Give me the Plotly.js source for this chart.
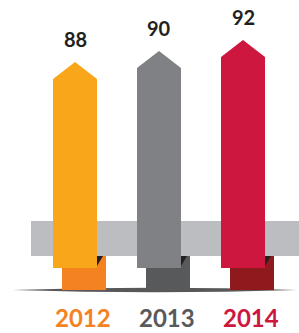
<!DOCTYPE html>
<html>
<head>
<meta charset="utf-8">
<script src="https://cdn.plot.ly/plotly-3.0.1.min.js"></script>
<style>
html,body{margin:0;padding:0;background:#fff;}
#chart{width:299px;height:333px;}
</style>
</head>
<body>
<div id="chart"></div>
<script>
// ---- data ----
const years = ['2012', '2013', '2014'];
const values = [88, 90, 92];
const frontColors = ['#F9A61B', '#808184', '#CD173F'];
const backColors = ['#F58220', '#58595B', '#8E1A1E'];
const yearColors = ['#F58220', '#58595B', '#CD173F'];

// ---- geometry constants (axis units) ----
const PX_X = 84, PX_Y = 5.5;            // pixels per axis unit
const xRange = [-75 / PX_X, (299 - 75) / PX_X];
const yRange = [88 - 271 / PX_Y, 88 + 62 / PX_Y];
const halfW = 22 / PX_X;
const headH = 17 / PX_Y;
const baseVal = 88 - 206 / PX_Y;        // front bar bottom
const backBottom = 88 - 228 / PX_Y;     // back bar bottom
const backShift = 9 / PX_X;
const bandTop = 88 - 159 / PX_Y, bandBot = 88 - 194 / PX_Y;
const bandLeft = (31 - 75) / PX_X;

const xs = years.map((_, i) => i);

const shapes = [];
// back (darker) bars
xs.forEach((x, i) => {
  shapes.push({
    type: 'rect', layer: 'below', xref: 'x', yref: 'y',
    x0: x - halfW + backShift, x1: x + halfW + backShift,
    y0: backBottom, y1: bandTop,
    fillcolor: backColors[i], line: {width: 0}
  });
});
// grey band
shapes.push({
  type: 'rect', layer: 'below', xref: 'x', yref: 'y',
  x0: bandLeft, x1: xRange[1], y0: bandBot, y1: bandTop,
  fillcolor: '#BCBDC0', line: {width: 0}
});
// fold triangles
xs.forEach((x) => {
  const r = x + halfW;
  shapes.push({
    type: 'path', layer: 'below', xref: 'x', yref: 'y',
    path: `M ${r} ${bandBot} L ${r + 6 / PX_X} ${bandBot} L ${r} ${bandBot - 10 / PX_Y} Z`,
    fillcolor: '#231F20', line: {width: 0}
  });
});
// ground shadow
const sx0 = 13 / 299, sx1 = 297 / 299;
const yC = 1 - 290 / 333, dy = 2 / 333;
shapes.push({
  type: 'path', layer: 'below', xref: 'paper', yref: 'paper',
  path: `M ${sx0} ${yC} Q ${(sx0 + sx1) / 2} ${yC + 2.2 * dy} ${sx1} ${yC} Q ${(sx0 + sx1) / 2} ${yC - 2.2 * dy} ${sx0} ${yC} Z`,
  fillcolor: 'rgba(35,31,32,0.75)', line: {width: 0}
});

// front arrow bars as traces
const traces = xs.map((x, i) => {
  const v = values[i];
  const l = x - halfW, r = x + halfW;
  return {
    type: 'scatter', mode: 'lines', fill: 'toself',
    x: [l, l, x, r, r, l],
    y: [baseVal, v - headH, v, v - headH, baseVal, baseVal],
    fillcolor: frontColors[i], line: {width: 0, color: frontColors[i]},
    hoverinfo: 'skip', showlegend: false
  };
});

const annotations = [];
xs.forEach((x, i) => {
  annotations.push({
    x: x, y: values[i], xref: 'x', yref: 'y',
    text: String(values[i]), showarrow: false,
    yanchor: 'bottom', yshift: 9,
    font: {family: 'Lato', size: 20, weight: 700, color: '#231F20'}
  });
  annotations.push({
    x: x + 0.1, y: 0, xref: 'x', yref: 'paper',
    text: years[i], showarrow: false,
    yanchor: 'bottom', borderpad: 0,
    font: {family: 'Lato', size: 24, weight: 700, color: yearColors[i]}
  });
});

const layout = {
  width: 299, height: 333,
  margin: {l: 0, r: 0, t: 0, b: 0},
  paper_bgcolor: '#fff', plot_bgcolor: '#fff',
  xaxis: {range: xRange, visible: false, fixedrange: true},
  yaxis: {range: yRange, visible: false, fixedrange: true},
  shapes: shapes, annotations: annotations, showlegend: false
};

Plotly.newPlot('chart', traces, layout, {staticPlot: true, displayModeBar: false});
</script>
</body>
</html>
